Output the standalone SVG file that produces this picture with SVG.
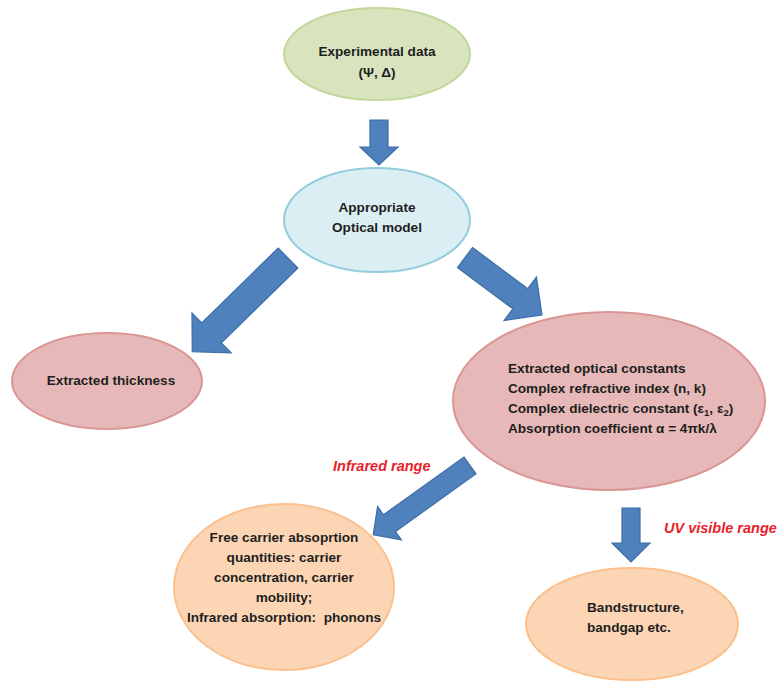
<svg xmlns="http://www.w3.org/2000/svg" width="777" height="682" viewBox="0 0 777 682">
<style>
.t{font-family:"Liberation Sans",Arial,sans-serif;font-weight:bold;font-size:13.6px;fill:#1e1e1e}
.c{text-anchor:middle}
.lbl{font-family:"Liberation Sans",Arial,sans-serif;font-weight:bold;font-style:italic;font-size:14.5px;fill:#e8202a}
.arr{fill:#4f81bd;stroke:#3d6da6;stroke-width:1.2;stroke-linejoin:miter}
.green{fill:#d7e4bd;stroke:#c3d69b;stroke-width:2}
.blue{fill:#dbeef4;stroke:#93cddd;stroke-width:2}
.red{fill:#e6b9b8;stroke:#d99694;stroke-width:2}
.orange{fill:#fcd5b5;stroke:#fac090;stroke-width:2}
</style>
<rect width="777" height="682" fill="#ffffff"/>
<g id="connectors">
<polygon class="arr" points="370,120 388,120 388,147 398,147 379,165 360,147 370,147"/>
<polygon class="arr" transform="translate(288,258) rotate(135.6)" points="0,-14 107,-14 107,-28 134,0 107,28 107,14 0,14"/>
<polygon class="arr" transform="translate(465,257.5) rotate(36.7)" points="0,-12.5 69,-12.5 69,-27 96,0 69,27 69,12.5 0,12.5"/>
<polygon class="arr" transform="translate(470,465.5) rotate(144.4)" points="0,-10.3 99,-10.3 99,-20.5 119,0 99,20.5 99,10.3 0,10.3"/>
<polygon class="arr" points="622,508 640,508 640,543 650,543 631,562 612,543 622,543"/>
</g>
<g id="experimental">
<ellipse class="green" cx="377" cy="54" rx="93" ry="46"/>
<text class="t c" x="377" y="56">Experimental data</text>
<text class="t c" x="377" y="77">(Ψ, Δ)</text>
</g>
<g id="optical-model">
<ellipse class="blue" cx="377" cy="220" rx="93" ry="52"/>
<text class="t c" x="377" y="212">Appropriate</text>
<text class="t c" x="377" y="232">Optical model</text>
</g>
<g id="thickness">
<ellipse class="red" cx="107" cy="381" rx="95" ry="48"/>
<text class="t c" x="111" y="385">Extracted thickness</text>
</g>
<g id="constants">
<ellipse class="red" cx="609" cy="401" rx="156" ry="89"/>
<text class="t" x="508" y="373">Extracted optical constants</text>
<text class="t" x="508" y="393">Complex refractive index (n, k)</text>
<text class="t" x="508" y="413">Complex dielectric constant (ε<tspan font-size="9.5" dy="3">1</tspan><tspan dy="-3">, ε</tspan><tspan font-size="9.5" dy="3">2</tspan><tspan dy="-3">)</tspan></text>
<text class="t" x="508" y="433">Absorption coefficient α = 4πk/λ</text>
</g>
<g id="free-carrier">
<ellipse class="orange" cx="284" cy="587" rx="110" ry="83"/>
<text class="t c" x="284" y="542">Free carrier absoprtion</text>
<text class="t c" x="284" y="562">quantities: carrier</text>
<text class="t c" x="284" y="582">concentration, carrier</text>
<text class="t c" x="284" y="602">mobility;</text>
<text class="t c" x="284" y="622" xml:space="preserve">Infrared absorption:  phonons</text>
</g>
<g id="bandstructure">
<ellipse class="orange" cx="632" cy="624" rx="106" ry="56"/>
<text class="t" x="587" y="612">Bandstructure,</text>
<text class="t" x="587" y="632">bandgap etc.</text>
</g>
<text class="lbl" x="333" y="471">Infrared range</text>
<text class="lbl" x="664" y="533">UV visible range</text>
</svg>
